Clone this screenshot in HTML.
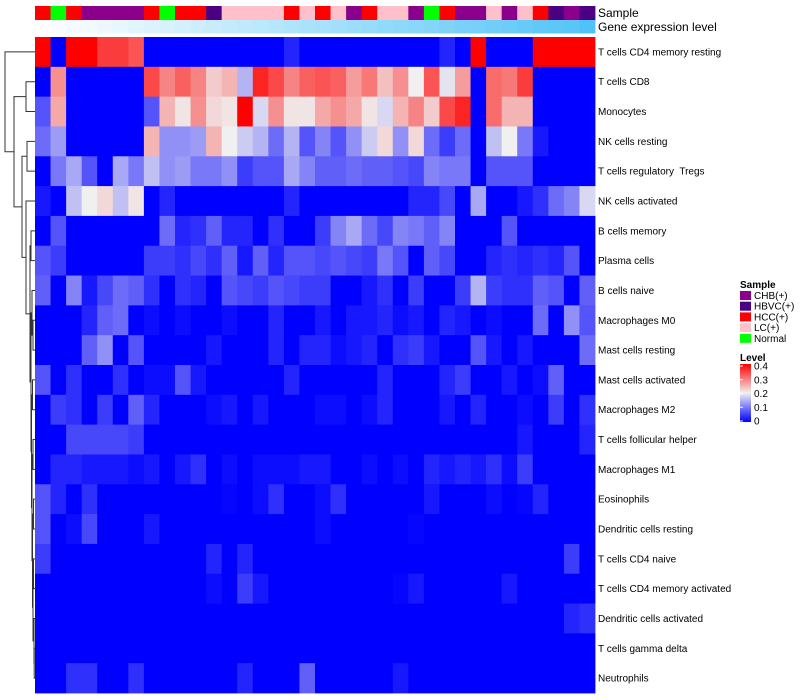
<!DOCTYPE html>
<html><head><meta charset="utf-8"><style>
html,body{margin:0;padding:0;background:#fff;}
svg{display:block;font-family:"Liberation Sans",sans-serif;}
text{white-space:pre;}
</style></head><body>
<svg id="chart" width="800" height="700" xmlns="http://www.w3.org/2000/svg"></svg>
<script>
const rowNames=["T cells CD4 memory resting","T cells CD8","Monocytes","NK cells resting","T cells regulatory  Tregs","NK cells activated","B cells memory","Plasma cells","B cells naive","Macrophages M0","Mast cells resting","Mast cells activated","Macrophages M2","T cells follicular helper","Macrophages M1","Eosinophils","Dendritic cells resting","T cells CD4 naive","T cells CD4 memory activated","Dendritic cells activated","T cells gamma delta","Neutrophils"];
const sampleGroups=["HCC","Normal","HCC","CHB","CHB","CHB","CHB","HCC","Normal","HCC","HCC","HBVC","LC","LC","LC","LC","HCC","LC","HCC","LC","CHB","HCC","LC","LC","CHB","Normal","HCC","CHB","CHB","LC","CHB","LC","HCC","HBVC","CHB","HBVC"];
const geneLevel=[0,0.03,0.06,0.08,0.11,0.14,0.17,0.2,0.22,0.25,0.28,0.31,0.34,0.36,0.39,0.42,0.45,0.48,0.5,0.53,0.56,0.59,0.62,0.64,0.67,0.7,0.73,0.76,0.78,0.81,0.84,0.87,0.9,0.92,0.95,1];
const v0=[0.4,0,0.4,0.4,0.35,0.35,0.33,0,0,0,0,0,0,0,0,0,0.03,0,0,0,0,0,0,0,0,0,0.03,0,0.4,0,0,0,0.4,0.4,0.4,0.4];
const v1=[0,0.28,0,0,0,0,0,0.34,0.29,0.32,0.29,0.23,0.25,0.15,0.37,0.34,0.29,0.32,0.33,0.32,0.27,0.3,0.24,0.28,0.2,0.33,0.19,0.27,0,0.31,0.3,0.35,0,0,0,0];
const v2=[0.07,0.26,0,0,0,0,0,0.07,0.25,0.21,0.28,0.22,0.21,0.4,0.18,0.28,0.21,0.21,0.26,0.28,0.26,0.21,0.18,0.25,0.29,0.23,0.34,0.37,0,0.31,0.25,0.25,0,0,0,0];
const v3=[0.09,0.13,0,0,0,0,0,0.25,0.12,0.12,0.13,0.25,0.2,0.17,0.15,0.09,0.15,0.07,0.11,0.07,0.12,0.17,0.22,0.12,0.22,0.09,0.05,0.09,0,0.16,0.2,0.1,0.02,0,0,0];
const v4=[0,0.1,0.14,0.07,0,0.14,0.1,0.16,0.12,0.13,0.1,0.1,0.12,0.05,0.07,0.07,0.14,0.11,0.08,0.08,0.09,0.08,0.08,0.07,0.06,0.11,0.1,0.1,0,0.07,0.07,0.07,0,0,0,0];
const v5=[0.02,0,0.16,0.2,0.22,0.16,0.21,0,0.03,0,0,0,0,0,0,0,0.03,0,0,0,0,0,0,0,0.03,0.03,0.06,0,0.14,0,0,0.02,0.04,0.09,0.11,0.18];
const v6=[0,0.07,0,0,0,0,0,0,0.09,0.03,0.04,0.08,0.03,0.03,0,0.04,0,0,0.05,0.11,0.14,0.09,0.06,0.11,0.1,0.08,0.11,0,0,0,0.07,0,0,0,0,0];
const v7=[0.07,0.05,0,0,0,0,0,0.05,0.05,0.04,0.06,0.04,0.08,0.02,0.08,0.03,0.07,0.07,0.06,0.07,0.06,0.05,0.1,0.07,0,0.08,0.06,0,0,0.03,0.04,0.03,0.04,0.03,0.07,0];
const v8=[0.08,0,0.11,0.02,0.06,0.09,0.08,0.04,0,0.04,0.03,0,0.07,0.06,0.05,0.07,0.06,0.05,0.05,0,0,0.02,0.04,0,0.05,0,0,0.05,0.15,0.05,0.04,0.04,0.08,0.07,0,0.08];
const v9=[0,0,0,0.03,0.08,0.09,0,0.01,0,0.01,0,0,0.01,0,0,0.03,0,0,0.02,0,0.02,0.02,0.03,0.01,0.02,0,0.03,0.02,0,0.01,0,0,0.09,0,0.12,0.07];
const v10=[0,0,0,0.08,0.12,0,0.07,0,0,0,0,0.02,0,0,0,0.03,0,0.03,0.03,0.01,0.02,0.03,0,0.04,0.05,0.02,0,0,0.07,0.02,0,0.02,0,0,0,0.09];
const v11=[0.07,0,0.04,0,0,0.04,0,0.01,0.01,0.07,0.02,0,0,0,0,0,0.03,0,0,0,0,0,0.03,0,0,0,0.03,0.05,0,0,0.02,0,0.01,0.08,0,0];
const v12=[0,0.05,0.04,0,0.05,0,0.08,0.03,0,0,0,0.01,0.02,0,0.02,0,0,0,0.01,0.01,0,0.01,0.03,0,0,0,0.02,0,0.03,0,0,0.01,0,0.05,0,0.04];
const v13=[0,0,0.06,0.06,0.06,0.06,0.05,0,0,0,0,0,0,0,0,0,0,0,0,0,0,0,0,0,0,0,0,0,0,0,0,0.02,0,0,0,0.03];
const v14=[0,0.03,0.03,0.02,0.02,0.02,0.01,0.02,0,0.02,0.04,0,0.01,0,0.01,0.01,0.01,0.02,0.02,0,0,0.01,0,0.01,0,0.03,0.02,0.03,0.02,0.04,0.01,0.05,0,0,0,0];
const v15=[0.07,0.03,0,0.04,0,0,0,0,0,0,0,0,0.005,0,0.01,0.04,0,0,0.01,0.04,0,0,0,0,0,0.02,0,0,0,0.01,0,0.005,0.03,0,0,0];
const v16=[0.07,0,0.01,0.06,0,0,0,0.02,0,0,0,0,0,0,0,0,0,0,0.01,0,0,0,0,0,0.005,0,0,0,0,0,0,0,0,0,0,0];
const v17=[0.05,0,0,0,0,0,0,0,0,0,0,0.03,0,0.03,0,0,0,0,0,0,0,0,0,0,0,0,0,0,0,0,0,0,0,0,0.05,0];
const v18=[0,0,0,0,0,0,0,0,0,0,0,0.01,0,0.05,0.02,0,0,0,0,0,0,0,0,0.005,0.02,0,0,0,0,0,0.02,0,0,0,0,0];
const v19=[0,0,0,0,0,0,0,0,0,0,0,0,0,0,0,0,0,0,0,0,0,0,0,0,0,0,0,0,0,0,0,0,0,0,0.03,0.04];
const v20=[0,0,0,0,0,0,0,0,0,0,0,0,0,0,0,0,0,0,0,0,0,0,0,0,0,0,0,0,0,0,0,0,0,0,0,0];
const v21=[0,0,0.04,0.04,0,0,0.04,0,0,0,0,0,0,0.03,0,0,0,0.08,0,0,0,0,0,0.02,0,0,0,0,0,0,0,0,0,0,0,0];
const values=[v0,v1,v2,v3,v4,v5,v6,v7,v8,v9,v10,v11,v12,v13,v14,v15,v16,v17,v18,v19,v20,v21];
const legendTicks=["0.4","0.3","0.2","0.1","0"];
const groupNames=["CHB","HBVC","HCC","LC","Normal"];
const groupLabels=["CHB(+)","HBVC(+)","HCC(+)","LC(+)","Normal"];

const NS="http://www.w3.org/2000/svg";
const svg=document.getElementById('chart');
const groupColor={CHB:"#8B008B",HBVC:"#4B0082",HCC:"#FF0000",LC:"#FFC0CB",Normal:"#00FF00"};
const X0=35,X1=595,Y0=37,Y1=693;
const nC=36,nR=rowNames.length;
const cw=(X1-X0)/nC, rh=(Y1-Y0)/nR;
function xPos(c){return X0+c*cw;}
function yPos(r){return Y0+r*rh;}
function color(v){
  v=Math.max(0,Math.min(0.4,v));
  let r,g,b;
  if(v<=0.2){const t=v/0.2;r=240*t;g=240*t;b=255-15*t;}
  else{const t=(v-0.2)/0.2;r=240+15*t;g=240*(1-t);b=240*(1-t);}
  return `rgb(${Math.round(r)},${Math.round(g)},${Math.round(b)})`;
}
function geneColor(t){
  const r=255+(79-255)*t,g=255+(195-255)*t,b=255+(247-255)*t;
  return `rgb(${Math.round(r)},${Math.round(g)},${Math.round(b)})`;
}
function mk(tag,attrs){const e=document.createElementNS(NS,tag);for(const k in attrs)e.setAttribute(k,attrs[k]);return e;}

for(let c=0;c<nC;c++){
  const a=mk('rect',{x:xPos(c),y:6,width:cw+0.4,height:14,fill:groupColor[sampleGroups[c]]});
  
  
  svg.appendChild(a);
  const g=mk('rect',{x:xPos(c),y:20,width:cw+0.4,height:13.5,fill:geneColor(geneLevel[c])});
  
  
  svg.appendChild(g);
}
const t1=mk('text',{x:598,y:17,'font-size':12,fill:'#000'});t1.textContent='Sample';
svg.appendChild(t1);
const t2=mk('text',{x:598,y:31,'font-size':12,fill:'#000'});t2.textContent='Gene expression level';
svg.appendChild(t2);

for(let r=0;r<nR;r++){
  for(let c=0;c<nC;c++){
    const e=mk('rect',{x:xPos(c),y:yPos(r),width:cw+0.4,height:rh+0.4,fill:color(values[r][c])});
    
    
    svg.appendChild(e);
  }
  const l=mk('text',{x:598,y:yPos(r)+rh/2+3.5,'font-size':10,fill:'#000'});
  l.textContent=rowNames[r];
  
  
  svg.appendChild(l);
}

const tree={h:30,k:[0,{h:21,k:[{h:9,k:[1,2]},{h:13,k:[{h:8,k:[3,4]},{h:9,k:[5,{h:5,k:[{h:4,k:[6,7]},
 {h:4,k:[{h:3,k:[8,{h:2,k:[9,10]}]},{h:3.5,k:[{h:2.5,k:[11,12]},{h:3,k:[{h:2,k:[13,14]},{h:2.5,k:[{h:1.5,k:[15,16]},{h:2,k:[{h:1.5,k:[17,18]},{h:1,k:[19,{h:0.8,k:[20,21]}]}]}]}]}]}]}]}]}]}]}]};
function draw(n){
  if(typeof n==='number')return {y:yPos(n)+rh/2,h:0};
  const a=draw(n.k[0]),b=draw(n.k[1]);
  const x=X0-n.h;
  const p=mk('path',{d:`M${X0-a.h},${a.y}H${x}V${b.y}H${X0-b.h}`,fill:'none',stroke:'#333','stroke-width':1});
  
  
  svg.appendChild(p);
  return {y:(a.y+b.y)/2,h:n.h};
}
draw(tree);

const lt=mk('text',{x:740,y:288,'font-size':10,'font-weight':'bold',fill:'#000'});lt.textContent='Sample';
svg.appendChild(lt);
groupNames.forEach((g,i)=>{
  const s=mk('rect',{x:740,y:291+i*10.7,width:11,height:9,fill:groupColor[g]});
  svg.appendChild(s);
  const t=mk('text',{x:754,y:299+i*10.7,'font-size':10,fill:'#000'});t.textContent=groupLabels[i];
  svg.appendChild(t);
});
const lv=mk('text',{x:740,y:361,'font-size':10,'font-weight':'bold',fill:'#000'});lv.textContent='Level';
svg.appendChild(lv);
const defs=mk('defs',{});const grad=mk('linearGradient',{id:'lg',x1:0,y1:0,x2:0,y2:1});
[[0,0.4],[0.5,0.2],[1,0]].forEach(([o,v])=>{grad.appendChild(mk('stop',{offset:o,'stop-color':color(v)}));});
defs.appendChild(grad);svg.appendChild(defs);
const gb=mk('rect',{x:740,y:364,width:11,height:58,fill:'url(#lg)'});
svg.appendChild(gb);
legendTicks.forEach((t,i)=>{
  const y=366+i*(421-366)/(legendTicks.length-1);
  const tk=mk('line',{x1:740,x2:743,y1:y,y2:y,stroke:'#fff','stroke-width':1});
  svg.appendChild(tk);
  const tx=mk('text',{x:754,y:y+3.5,'font-size':10,fill:'#000'});tx.textContent=t;
  svg.appendChild(tx);
});
</script>
</body></html>
